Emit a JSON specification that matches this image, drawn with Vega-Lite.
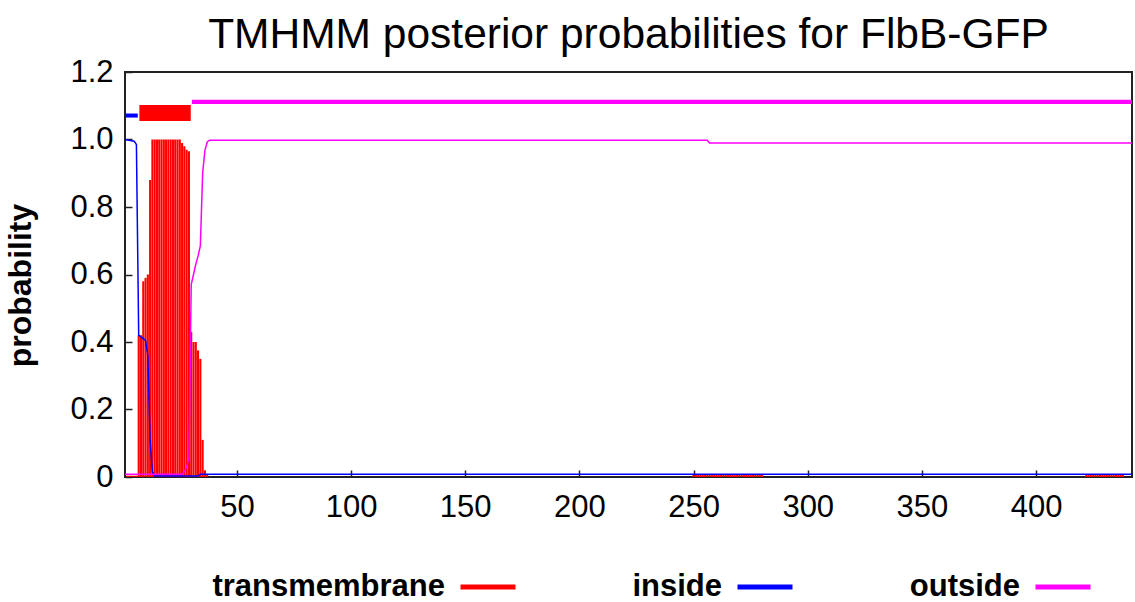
{
  "$schema": "https://vega.github.io/schema/vega-lite/v6.json",
  "width": 1007,
  "height": 405,
  "autosize": {"type": "none"},
  "padding": {"left": 125, "top": 72, "right": 3, "bottom": 125},
  "background": "white",
  "config": {
    "view": {"stroke": "#222222", "strokeWidth": 2},
    "font": "Liberation Sans"
  },
  "title": {
    "text": "TMHMM posterior probabilities for FlbB-GFP",
    "fontSize": 42.5,
    "fontWeight": "normal",
    "font": "Liberation Sans",
    "color": "black",
    "anchor": "middle",
    "offset": 0
  },
  "datasets": {
    "regions": [
      {"series": "inside", "start": 1, "end": 6.6, "lo": 1.065, "hi": 1.077},
      {"series": "transmembrane", "start": 7.3, "end": 29.8, "lo": 1.055, "hi": 1.102},
      {"series": "outside", "start": 30.3, "end": 442, "lo": 1.105, "hi": 1.118}
    ],
    "probs": [
      {"series": "transmembrane", "pos": 2, "p": 0.004},
      {"series": "transmembrane", "pos": 3, "p": 0.004},
      {"series": "transmembrane", "pos": 4, "p": 0.004},
      {"series": "transmembrane", "pos": 5, "p": 0.004},
      {"series": "transmembrane", "pos": 6, "p": 0.004},
      {"series": "transmembrane", "pos": 7, "p": 0.42},
      {"series": "transmembrane", "pos": 8, "p": 0.42},
      {"series": "transmembrane", "pos": 9, "p": 0.58},
      {"series": "transmembrane", "pos": 10, "p": 0.59},
      {"series": "transmembrane", "pos": 11, "p": 0.6},
      {"series": "transmembrane", "pos": 12, "p": 0.88},
      {"series": "transmembrane", "pos": 13, "p": 1.0},
      {"series": "transmembrane", "pos": 14, "p": 1.0},
      {"series": "transmembrane", "pos": 15, "p": 1.0},
      {"series": "transmembrane", "pos": 16, "p": 1.0},
      {"series": "transmembrane", "pos": 17, "p": 1.0},
      {"series": "transmembrane", "pos": 18, "p": 1.0},
      {"series": "transmembrane", "pos": 19, "p": 1.0},
      {"series": "transmembrane", "pos": 20, "p": 1.0},
      {"series": "transmembrane", "pos": 21, "p": 1.0},
      {"series": "transmembrane", "pos": 22, "p": 1.0},
      {"series": "transmembrane", "pos": 23, "p": 1.0},
      {"series": "transmembrane", "pos": 24, "p": 1.0},
      {"series": "transmembrane", "pos": 25, "p": 1.0},
      {"series": "transmembrane", "pos": 26, "p": 0.99},
      {"series": "transmembrane", "pos": 27, "p": 0.98},
      {"series": "transmembrane", "pos": 28, "p": 0.97},
      {"series": "transmembrane", "pos": 29, "p": 0.965},
      {"series": "transmembrane", "pos": 30, "p": 0.43},
      {"series": "transmembrane", "pos": 31, "p": 0.4},
      {"series": "transmembrane", "pos": 32, "p": 0.4},
      {"series": "transmembrane", "pos": 33, "p": 0.375},
      {"series": "transmembrane", "pos": 34, "p": 0.35},
      {"series": "transmembrane", "pos": 35, "p": 0.11},
      {"series": "transmembrane", "pos": 36, "p": 0.02},
      {"series": "transmembrane", "pos": 37, "p": 0.006},
      {"series": "transmembrane", "pos": 250, "p": 0.006},
      {"series": "transmembrane", "pos": 251, "p": 0.006},
      {"series": "transmembrane", "pos": 252, "p": 0.006},
      {"series": "transmembrane", "pos": 253, "p": 0.006},
      {"series": "transmembrane", "pos": 254, "p": 0.006},
      {"series": "transmembrane", "pos": 255, "p": 0.006},
      {"series": "transmembrane", "pos": 256, "p": 0.006},
      {"series": "transmembrane", "pos": 257, "p": 0.006},
      {"series": "transmembrane", "pos": 258, "p": 0.006},
      {"series": "transmembrane", "pos": 259, "p": 0.006},
      {"series": "transmembrane", "pos": 260, "p": 0.006},
      {"series": "transmembrane", "pos": 261, "p": 0.006},
      {"series": "transmembrane", "pos": 262, "p": 0.006},
      {"series": "transmembrane", "pos": 263, "p": 0.006},
      {"series": "transmembrane", "pos": 264, "p": 0.006},
      {"series": "transmembrane", "pos": 265, "p": 0.006},
      {"series": "transmembrane", "pos": 266, "p": 0.006},
      {"series": "transmembrane", "pos": 267, "p": 0.006},
      {"series": "transmembrane", "pos": 268, "p": 0.006},
      {"series": "transmembrane", "pos": 269, "p": 0.006},
      {"series": "transmembrane", "pos": 270, "p": 0.006},
      {"series": "transmembrane", "pos": 271, "p": 0.006},
      {"series": "transmembrane", "pos": 272, "p": 0.006},
      {"series": "transmembrane", "pos": 273, "p": 0.006},
      {"series": "transmembrane", "pos": 274, "p": 0.006},
      {"series": "transmembrane", "pos": 275, "p": 0.006},
      {"series": "transmembrane", "pos": 276, "p": 0.006},
      {"series": "transmembrane", "pos": 277, "p": 0.006},
      {"series": "transmembrane", "pos": 278, "p": 0.006},
      {"series": "transmembrane", "pos": 279, "p": 0.006},
      {"series": "transmembrane", "pos": 280, "p": 0.006},
      {"series": "transmembrane", "pos": 422, "p": 0.006},
      {"series": "transmembrane", "pos": 423, "p": 0.006},
      {"series": "transmembrane", "pos": 424, "p": 0.006},
      {"series": "transmembrane", "pos": 425, "p": 0.006},
      {"series": "transmembrane", "pos": 426, "p": 0.006},
      {"series": "transmembrane", "pos": 427, "p": 0.006},
      {"series": "transmembrane", "pos": 428, "p": 0.006},
      {"series": "transmembrane", "pos": 429, "p": 0.006},
      {"series": "transmembrane", "pos": 430, "p": 0.006},
      {"series": "transmembrane", "pos": 431, "p": 0.006},
      {"series": "transmembrane", "pos": 432, "p": 0.006},
      {"series": "transmembrane", "pos": 433, "p": 0.006},
      {"series": "transmembrane", "pos": 434, "p": 0.006},
      {"series": "transmembrane", "pos": 435, "p": 0.006},
      {"series": "transmembrane", "pos": 436, "p": 0.006},
      {"series": "transmembrane", "pos": 437, "p": 0.006},
      {"series": "transmembrane", "pos": 438, "p": 0.006},
      {"series": "inside", "pos": 1, "p": 1.0},
      {"series": "inside", "pos": 5, "p": 0.995},
      {"series": "inside", "pos": 6, "p": 0.985},
      {"series": "inside", "pos": 7, "p": 0.42},
      {"series": "inside", "pos": 8, "p": 0.415},
      {"series": "inside", "pos": 9, "p": 0.41},
      {"series": "inside", "pos": 10, "p": 0.405},
      {"series": "inside", "pos": 11, "p": 0.36},
      {"series": "inside", "pos": 12, "p": 0.11},
      {"series": "inside", "pos": 13, "p": 0.015},
      {"series": "inside", "pos": 14, "p": 0.003},
      {"series": "inside", "pos": 33, "p": 0.003},
      {"series": "inside", "pos": 34, "p": 0.008},
      {"series": "inside", "pos": 442, "p": 0.008},
      {"series": "outside", "pos": 1, "p": 0.008},
      {"series": "outside", "pos": 26, "p": 0.008},
      {"series": "outside", "pos": 27, "p": 0.015},
      {"series": "outside", "pos": 28, "p": 0.03},
      {"series": "outside", "pos": 29, "p": 0.055},
      {"series": "outside", "pos": 30, "p": 0.57},
      {"series": "outside", "pos": 31, "p": 0.6},
      {"series": "outside", "pos": 32, "p": 0.63},
      {"series": "outside", "pos": 33, "p": 0.655},
      {"series": "outside", "pos": 34, "p": 0.685},
      {"series": "outside", "pos": 35, "p": 0.9},
      {"series": "outside", "pos": 36, "p": 0.968},
      {"series": "outside", "pos": 37, "p": 0.993},
      {"series": "outside", "pos": 38, "p": 0.998},
      {"series": "outside", "pos": 256, "p": 0.998},
      {"series": "outside", "pos": 257, "p": 0.99},
      {"series": "outside", "pos": 442, "p": 0.99}
    ]
  },
  "layer": [
    {
      "data": {"name": "regions"},
      "mark": {"type": "rect"},
      "encoding": {
        "x": {"field": "start", "type": "quantitative", "scale": {"domain": [1, 442], "nice": false, "zero": false},
          "axis": {"values": [50, 100, 150, 200, 250, 300, 350, 400], "title": null, "grid": false, "domain": false, "tickSize": -7, "tickColor": "#222222", "tickWidth": 1.5, "labelFontSize": 31, "labelColor": "black", "labelFont": "Liberation Sans", "labelPadding": 22}},
        "x2": {"field": "end"},
        "y": {"field": "lo", "type": "quantitative", "scale": {"domain": [0, 1.2], "nice": false},
          "axis": {"values": [0, 0.2, 0.4, 0.6, 0.8, 1.0, 1.2], "labelExpr": "datum.value == 0 ? '0' : format(datum.value, '.1f')", "title": "probability", "titleFontSize": 32, "titleFontWeight": "bold", "titleColor": "black", "titleFont": "Liberation Sans", "titleX": -88, "titleY": 213, "grid": false, "domain": false, "tickSize": -7, "tickColor": "#222222", "tickWidth": 1.5, "labelFontSize": 31, "labelColor": "black", "labelFont": "Liberation Sans", "labelPadding": 19}},
        "y2": {"field": "hi"},
        "color": {"field": "series", "type": "nominal",
          "scale": {"domain": ["transmembrane", "inside", "outside"], "range": ["#ff0000", "#0000ff", "#ff00ff"]},
          "legend": {"title": null, "orient": "none", "legendX": 333, "legendY": 485, "direction": "horizontal", "symbolType": "stroke", "symbolSize": 3025, "symbolStrokeWidth": 5, "labelFontSize": 31, "labelFontWeight": "bold", "labelColor": "black", "labelFont": "Liberation Sans", "labelAlign": "right", "labelOffset": -73, "labelLimit": 500, "columnPadding": 106}}
      }
    },
    {
      "data": {"name": "probs"},
      "transform": [{"filter": "datum.series == 'transmembrane'"}],
      "mark": {"type": "rule", "strokeWidth": 2.1},
      "encoding": {
        "x": {"field": "pos", "type": "quantitative"},
        "y": {"field": "p", "type": "quantitative"},
        "y2": {"datum": 0},
        "color": {"field": "series", "type": "nominal"}
      }
    },
    {
      "data": {"name": "probs"},
      "transform": [{"filter": "datum.series != 'transmembrane'"}],
      "mark": {"type": "line", "strokeWidth": 1.5},
      "encoding": {
        "x": {"field": "pos", "type": "quantitative"},
        "y": {"field": "p", "type": "quantitative"},
        "color": {"field": "series", "type": "nominal"}
      }
    }
  ]
}
